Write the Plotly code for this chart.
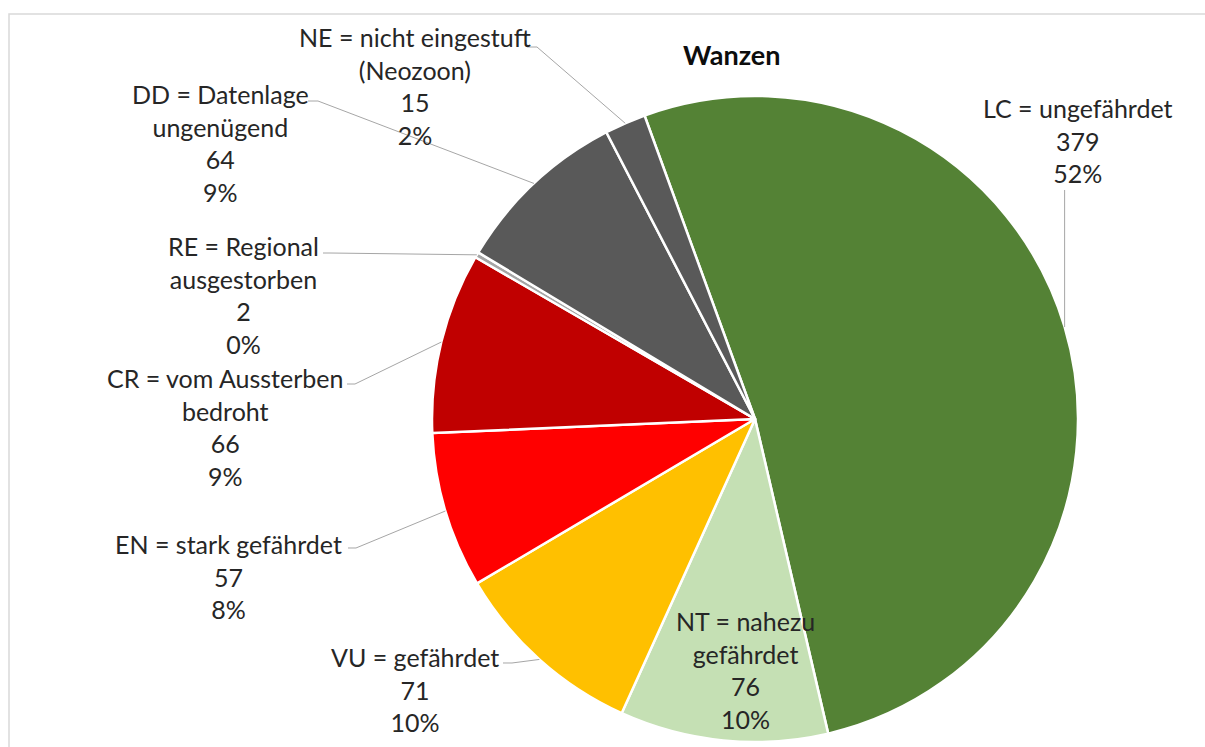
import math
import plotly.graph_objects as go

# Rote-Liste-Kategorien der Wanzen
categories = ["LC", "NT", "VU", "EN", "CR", "RE", "DD", "NE"]
descriptions = [
    "LC = ungefährdet",
    "NT = nahezu<br>gefährdet",
    "VU = gefährdet",
    "EN = stark gefährdet",
    "CR = vom Aussterben<br>bedroht",
    "RE = Regional<br>ausgestorben",
    "DD = Datenlage<br>ungenügend",
    "NE = nicht eingestuft<br>(Neozoon)",
]
counts = [379, 76, 71, 57, 66, 2, 64, 15]
colors = ["#548235", "#C5E0B4", "#FFC000", "#FF0000", "#C00000",
          "#A5A5A5", "#595959", "#595959"]

W, H = 1205, 747
ROTATION = -20
CX, CY, R = 755, 419, 323   # pie centre and radius in pixels


def px(x):
    return x / W


def py(y):
    return 1 - y / H


# label block centre (pixels) and leader-line start points (pixels)
label_pos = {
    "LC": (1078, 140), "NT": (745, 670), "VU": (415, 689), "EN": (228, 576),
    "CR": (225, 427), "RE": (243, 295), "DD": (221, 143.5), "NE": (415, 86),
}
leader_start = {
    "VU": [(503, 663), (512, 663)],
    "EN": [(348, 548), (356, 548)],
    "CR": [(347, 384), (355, 384)],
    "RE": [(323, 253), (330, 253)],
    "DD": [(308, 101), (318, 101)],
    "NE": [(527, 47), (537, 47)],
}

total = sum(counts)

fig = go.Figure(go.Pie(
    labels=categories,
    values=counts,
    sort=False,
    direction="clockwise",
    rotation=ROTATION,
    marker=dict(colors=colors, line=dict(color="white", width=2.5)),
    textinfo="none",
    hoverinfo="skip",
    showlegend=False,
    domain=dict(x=[px(CX - R), px(CX + R)], y=[py(CY + R), py(CY - R)]),
))

annotations = []
shapes = []
cum = 0
for cat, desc, n in zip(categories, descriptions, counts):
    mid = ROTATION + (cum + n / 2) / total * 360
    cum += n
    ex = CX + R * math.sin(math.radians(mid))
    ey = CY - R * math.cos(math.radians(mid))
    pct = round(n / total * 100)
    lx, ly = label_pos[cat]
    annotations.append(dict(
        x=px(lx), y=py(ly), xref="paper", yref="paper",
        text=f"{desc}<br>{n}<br>{pct}%", showarrow=False,
        xanchor="center", yanchor="middle", align="center",
        font=dict(family="Lato", size=25, color="#262626"),
    ))
    if cat == "LC":
        pts = [(ex, 190), (ex, ey)]
    elif cat in leader_start:
        pts = leader_start[cat] + [(ex, ey)]
    else:
        pts = []
    if pts:
        path = "M " + " L ".join(f"{px(x):.5f},{py(y):.5f}" for x, y in pts)
        shapes.append(dict(type="path", path=path, xref="paper", yref="paper",
                           line=dict(color="#A6A6A6", width=1)))

annotations.append(dict(
    x=px(731), y=py(54), xref="paper", yref="paper",
    text="<b>Wanzen</b>", showarrow=False, xanchor="center", yanchor="middle",
    font=dict(family="Lato", size=27, color="#0D0D0D"),
))

# chart-area frame
shapes.append(dict(type="rect", xref="paper", yref="paper",
                   x0=px(9), x1=px(1215), y0=py(14), y1=py(760),
                   line=dict(color="#D9D9D9", width=1.5), layer="below"))

fig.update_layout(
    width=W, height=H,
    margin=dict(l=0, r=0, t=0, b=0),
    paper_bgcolor="white", plot_bgcolor="white",
    annotations=annotations, shapes=shapes,
)

fig.write_html("out.html")
